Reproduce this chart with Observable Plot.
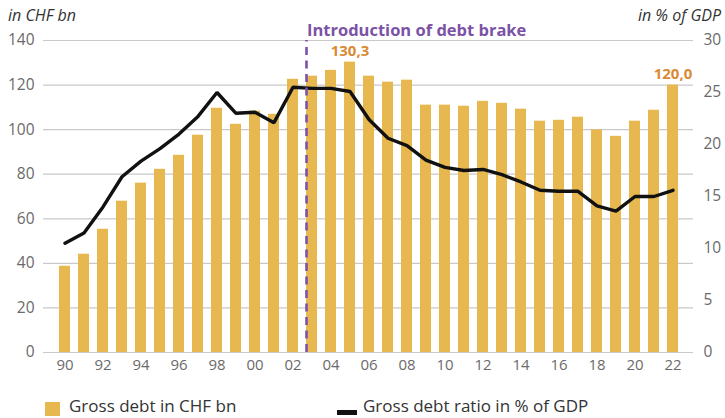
<!DOCTYPE html>
<html><head><meta charset="utf-8">
<script src="https://cdn.jsdelivr.net/npm/d3@7"></script>
<script src="https://cdn.jsdelivr.net/npm/@observablehq/plot@0.6"></script>
<style>
body{margin:0;background:#fff;font-family:"Open Sans",sans-serif;}
#wrap{position:relative;width:725px;height:418px;overflow:hidden;}
#wrap svg{position:absolute;left:0;top:0;}
.t{position:absolute;font-style:italic;font-size:16px;color:#333;white-space:nowrap;}
.lg{position:absolute;font-size:17px;color:#333;white-space:nowrap;}
.sw{position:absolute;}
</style></head><body><div id="wrap"></div>
<script>
const years = ["1990","1991","1992","1993","1994","1995","1996","1997","1998","1999","2000","2001","2002","2003","2004","2005","2006","2007","2008","2009","2010","2011","2012","2013","2014","2015","2016","2017","2018","2019","2020","2021","2022"];
const debtCHF = [38.7,44.1,55.3,67.9,76.0,82.2,88.5,97.5,109.6,102.4,108.3,106.9,122.6,124.0,126.6,130.3,124.0,121.3,122.2,111.0,111.0,110.5,112.7,111.8,109.2,103.8,104.2,105.6,99.9,97.0,103.8,108.7,120.0];
const debtRatio = [10.5,11.5,14.0,16.9,18.4,19.6,21.0,22.7,25.0,23.0,23.1,22.1,25.5,25.4,25.4,25.1,22.4,20.6,19.9,18.5,17.8,17.5,17.6,17.1,16.4,15.6,15.5,15.5,14.1,13.6,15.0,15.0,15.6];
const leftTicks = [0,20,40,60,80,100,120,140];
const rightTicks = [0,5,10,15,20,25,30];
const xTickYears = ["1990","1992","1994","1996","1998","2000","2002","2004","2006","2008","2010","2012","2014","2016","2018","2020","2022"];
const brakeYear = "2003";
const brakeLabel = "Introduction of debt brake";
const highlights = [{year:"2005", value:130.3, label:"130,3"},{year:"2022", value:120.0, label:"120,0"}];
const leftTitle = "in CHF bn";
const rightTitle = "in % of GDP";
const legendBar = "Gross debt in CHF bn";
const legendLine = "Gross debt ratio in % of GDP";

const K = 140/30;
const gold = "#E6B84F";
const purple = "#7B52A6";
const orange = "#DA8A35";
const tickColor = "#6a6a6a";

const rows = years.map((y,i)=>({year:y, debt:debtCHF[i], ratio:debtRatio[i]*K}));

const plot = Plot.plot({
  width:725, height:375,
  marginLeft:43, marginRight:32, marginTop:40, marginBottom:23,
  style:{fontFamily:"Open Sans, sans-serif", fontSize:"14px", color:tickColor, background:"transparent", overflow:"visible"},
  x:{type:"band", domain:years, paddingInner:0.44, paddingOuter:0.22, label:null},
  y:{domain:[0,140], label:null},
  marks:[
    Plot.ruleY(leftTicks, {stroke:"#c9c9c9", strokeWidth:1.2}),
    Plot.barY(rows, {x:"year", y:"debt", fill:gold}),
    Plot.line(rows, {x:"year", y:"ratio", stroke:"#111", strokeWidth:3.4, strokeLinejoin:"miter", curve:"linear"}),
    Plot.ruleX([brakeYear], {y1:0, y2:140, dx:-5.5, stroke:purple, strokeWidth:2.6, strokeDasharray:"8,5.5"}),
    Plot.text([brakeLabel], {x:()=>brakeYear, frameAnchor:"top", text:d=>d, dx:-5, dy:-16, textAnchor:"start", fill:purple, fontWeight:"bold", fontSize:16.5}),
    Plot.text(highlights, {x:"year", y:"value", text:"label", dy:-10.5, fill:orange, fontWeight:"bold", fontSize:15}),
    Plot.axisY(leftTicks, {anchor:"left", tickSize:0, tickPadding:9, fontSize:15.5, fill:tickColor, label:null}),
    Plot.axisY(rightTicks.map(v=>v*K), {anchor:"right", tickSize:0, tickPadding:10, fontSize:15.5, fill:tickColor, tickFormat:d=>String(Math.round(d/K)), label:null}),
    Plot.axisX(xTickYears, {tickSize:0, tickPadding:7, fontSize:15, fill:tickColor, tickFormat:d=>d.slice(2), label:null})
  ]
});
const wrap = document.getElementById("wrap");
wrap.appendChild(plot);

function add(cls, text, style){const e=document.createElement("div");e.className=cls;if(text)e.textContent=text;Object.assign(e.style,style);wrap.appendChild(e);}
add("t", leftTitle, {left:"8px", top:"4px"});
add("t", rightTitle, {right:"4px", top:"4px"});
add("sw", null, {left:"45px", top:"402px", width:"15px", height:"14px", background:gold});
add("lg", legendBar, {left:"69px", top:"394px"});
add("sw", null, {left:"337px", top:"410px", width:"20px", height:"5px", background:"#111"});
add("lg", legendLine, {left:"363px", top:"394px"});
</script></body></html>
